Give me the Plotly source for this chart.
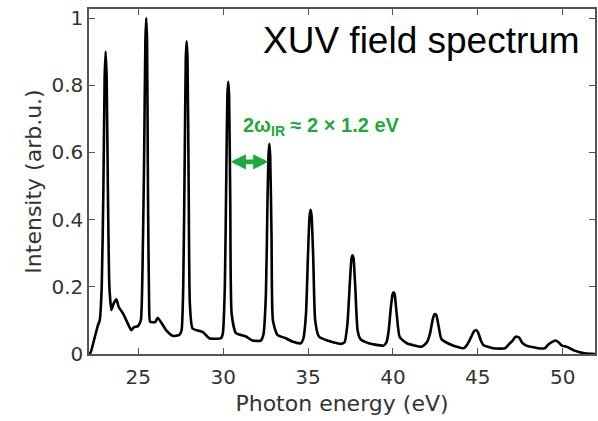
import plotly.graph_objects as go

# Spectrum (photon energy in eV, normalised intensity)
energy_ev = [
    22.10, 22.20, 22.44, 22.63, 22.73,
    22.85, 22.95, 23.02, 23.08, 23.14, 23.21, 23.30, 23.42,
    23.55, 23.71, 23.85, 24.10, 24.30, 24.59, 24.75, 24.98, 25.15,
    25.25, 25.35, 25.42, 25.47, 25.52, 25.57, 25.64, 25.70,
    26.00, 26.15, 26.64, 27.03, 27.42, 27.55,
    27.65, 27.74, 27.80, 27.85, 27.90, 27.97, 28.04,
    28.20, 28.79, 29.18, 29.87, 29.98,
    30.10, 30.19, 30.25, 30.30, 30.35, 30.42, 30.50,
    30.75, 31.34, 31.73, 32.22, 32.38,
    32.52, 32.61, 32.67, 32.72, 32.77, 32.85, 32.93,
    33.19, 33.69, 34.07, 34.57, 34.72,
    34.88, 35.00, 35.09, 35.15, 35.21, 35.31, 35.42,
    35.64, 36.13, 36.91, 37.15,
    37.32, 37.46, 37.56, 37.62, 37.68, 37.79, 37.92,
    38.09, 38.57, 39.45, 39.62,
    39.75, 39.88, 39.98, 40.04, 40.10, 40.22, 40.40,
    40.82, 41.70, 42.00,
    42.18, 42.33, 42.43, 42.49, 42.56, 42.70, 42.85,
    43.46, 44.15, 44.40,
    44.60, 44.78, 44.89, 45.00, 45.18,
    45.32, 45.91, 46.60, 46.85,
    47.05, 47.20, 47.32, 47.45, 47.62,
    47.86, 48.55, 48.94, 49.15,
    49.35, 49.57, 49.75, 49.95,
    50.21, 50.70, 51.29, 51.90,
]
intensity = [
    0.000, 0.005, 0.050, 0.086, 0.100,
    0.200, 0.500, 0.820, 0.900, 0.820, 0.500, 0.200, 0.131,
    0.150, 0.163, 0.140, 0.121, 0.100, 0.071, 0.080, 0.083, 0.100,
    0.250, 0.600, 0.930, 1.000, 0.930, 0.500, 0.150, 0.096,
    0.095, 0.108, 0.071, 0.054, 0.057, 0.070,
    0.200, 0.600, 0.880, 0.931, 0.880, 0.500, 0.150,
    0.076, 0.066, 0.047, 0.047, 0.060,
    0.200, 0.550, 0.770, 0.811, 0.770, 0.450, 0.120,
    0.062, 0.052, 0.040, 0.040, 0.060,
    0.180, 0.450, 0.590, 0.626, 0.590, 0.350, 0.100,
    0.057, 0.047, 0.037, 0.032, 0.045,
    0.120, 0.300, 0.410, 0.429, 0.410, 0.280, 0.100,
    0.052, 0.040, 0.030, 0.035,
    0.090, 0.210, 0.285, 0.294, 0.285, 0.190, 0.070,
    0.044, 0.032, 0.025, 0.035,
    0.070, 0.140, 0.178, 0.184, 0.178, 0.120, 0.050,
    0.032, 0.022, 0.035,
    0.060, 0.100, 0.117, 0.119, 0.115, 0.080, 0.045,
    0.027, 0.017, 0.030,
    0.050, 0.068, 0.0715, 0.066, 0.040,
    0.027, 0.017, 0.017, 0.030,
    0.040, 0.050, 0.0516, 0.048, 0.033,
    0.025, 0.017, 0.017, 0.028,
    0.035, 0.040, 0.035, 0.025,
    0.022, 0.010, 0.002, 0.000,
]

x_ticks = [25, 30, 35, 40, 45, 50]
y_ticks = [0, 0.2, 0.4, 0.6, 0.8, 1]
y_tick_text = ["0", "0.2", "0.4", "0.6", "0.8", "1"]

arrow_start_ev = 30.36
arrow_end_ev = 32.66
arrow_level = 0.572

GREEN = "#1fa83c"
AXIS = "#555555"
TXT = "#333333"

fig = go.Figure()
fig.add_trace(go.Scatter(
    x=energy_ev, y=intensity, mode="lines",
    line=dict(color="black", width=2.6, shape="spline", smoothing=0.5),
    showlegend=False, hoverinfo="skip",
))

fig.update_layout(
    width=598, height=421,
    margin=dict(l=89, r=1, t=9, b=67),
    paper_bgcolor="white", plot_bgcolor="white",
    font=dict(family="DejaVu Sans", color=TXT, size=20),
)
fig.update_xaxes(
    range=[22.1, 51.9], tickvals=x_ticks, ticks="inside", ticklen=6,
    tickcolor=AXIS, showline=True, linecolor=AXIS, linewidth=1.5, mirror="ticks",
    showgrid=False, zeroline=False, tickfont=dict(size=20, color=TXT),
    ticklabelstandoff=4,
    title=dict(text="Photon energy (eV)", font=dict(size=22, color=TXT), standoff=8),
)
fig.update_yaxes(
    range=[0, 1.027], tickvals=y_ticks, ticktext=y_tick_text, ticks="inside", ticklen=6,
    tickcolor=AXIS, showline=True, linecolor=AXIS, linewidth=1.5, mirror="ticks",
    showgrid=False, zeroline=False, tickfont=dict(size=20, color=TXT),
    title=dict(text="Intensity (arb.u.)", font=dict(size=22, color=TXT), standoff=4),
)

fig.add_annotation(
    xref="paper", yref="paper", x=0.974, y=0.91, xanchor="right", yanchor="middle",
    text="XUV field spectrum", showarrow=False,
    font=dict(family="Liberation Sans", size=37, color="black"),
)
fig.add_annotation(
    xref="x", yref="y", x=31.06, y=0.676, xanchor="left", yanchor="middle",
    text="<b>2ω<sub>IR</sub> ≈ 2 × 1.2 eV</b>", showarrow=False,
    font=dict(family="Liberation Sans", size=20, color=GREEN),
)
fig.add_annotation(
    xref="x", yref="y", axref="x", ayref="y",
    x=arrow_end_ev, y=arrow_level, ax=arrow_start_ev, ay=arrow_level,
    text="", showarrow=True, arrowhead=2, arrowside="end+start",
    arrowsize=0.66, arrowwidth=4.6, arrowcolor=GREEN, standoff=0, startstandoff=0,
)

fig.write_html("out.html")
